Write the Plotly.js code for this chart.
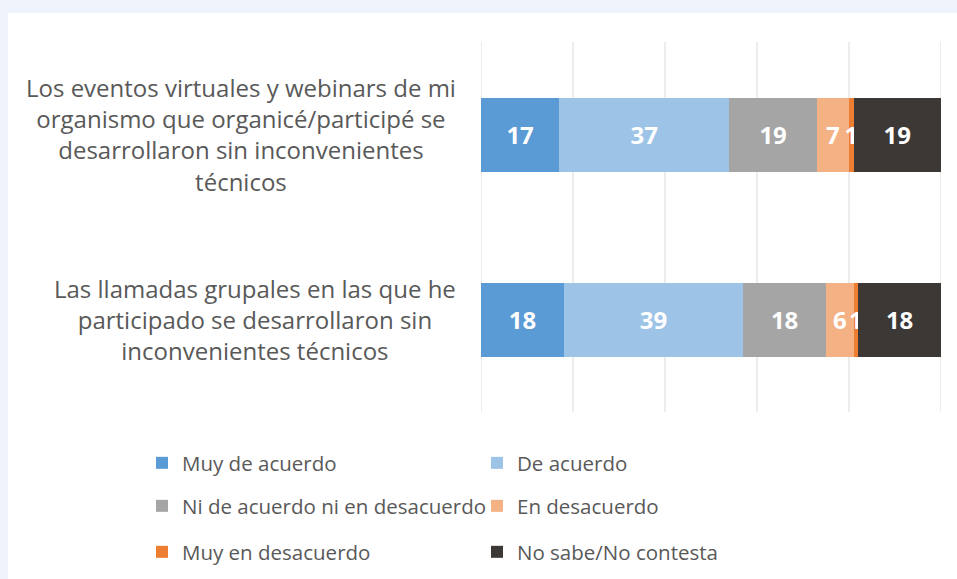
<!DOCTYPE html>
<html>
<head>
<meta charset="utf-8">
<script src="https://cdn.plot.ly/plotly-3.0.1.min.js"></script>
<style>
  html, body { margin: 0; padding: 0; background: #EFF3FB; width: 957px; height: 579px; overflow: hidden; }
  #chart { position: absolute; left: 8px; top: 13px; width: 949px; height: 566px; background: #ffffff; }
</style>
</head>
<body>
<div id="chart"></div>
<script>
// ---- data ----
const categories = [
  "Los eventos virtuales y webinars de mi<br>organismo que organicé/participé se<br>desarrollaron sin inconvenientes<br>técnicos",
  "Las llamadas grupales en las que he<br>participado se desarrollaron sin<br>inconvenientes técnicos"
];
const seriesNames = [
  "Muy de acuerdo",
  "De acuerdo",
  "Ni de acuerdo ni en desacuerdo",
  "En desacuerdo",
  "Muy en desacuerdo",
  "No sabe/No contesta"
];
const muyDeAcuerdo     = [17, 18];
const deAcuerdo        = [37, 39];
const niNi             = [19, 18];
const enDesacuerdo     = [7, 6];
const muyEnDesacuerdo  = [1, 1];
const noSabe           = [19, 18];
const seriesValues = [muyDeAcuerdo, deAcuerdo, niNi, enDesacuerdo, muyEnDesacuerdo, noSabe];
const xTicks = [0, 20, 40, 60, 80, 100];

// ---- styles ----
const colors = ["#5B9BD5", "#9DC3E6", "#A5A5A5", "#F4B183", "#ED7D31", "#3B3836"];
const legendIds = ["legend", "legend", "legend2", "legend2", "legend3", "legend3"];
const FONT = "Open Sans, Segoe UI, Noto Sans, sans-serif";
const TEXT = "#595959";

const traces = seriesNames.map((name, i) => ({
  type: "bar",
  orientation: "h",
  name: name,
  y: categories,
  x: seriesValues[i],
  text: seriesValues[i].map(String),
  textposition: "inside",
  insidetextanchor: "middle",
  textangle: 0,
  textfont: { family: FONT, size: 24, color: "#ffffff", weight: 700 },
  marker: { color: colors[i], line: { width: 0 } },
  legend: legendIds[i],
  hoverinfo: "skip"
}));

const plotLeft = 473, plotW = 460, plotTop = 29, plotH = 370;
const px2x = p => (p - plotLeft) / plotW;
const px2y = p => (plotTop + plotH - p) / plotH;

const legendBase = {
  orientation: "h",
  x: px2x(134),
  xanchor: "left",
  yanchor: "middle",
  font: { family: FONT, size: 20.5, color: TEXT },
  entrywidth: 290,
  entrywidthmode: "pixels",
  bgcolor: "rgba(0,0,0,0)",
  borderwidth: 0,
  traceorder: "normal"
};

// vertical grid lines drawn through the x axis scale
const gridShapes = xTicks.map(v => ({
  type: "line",
  xref: "x",
  yref: "paper",
  x0: v, x1: v,
  y0: 0, y1: 1,
  layer: "below",
  line: { color: "#D9D9D9", width: 1 }
}));

const layout = {
  width: 949,
  height: 566,
  margin: { l: plotLeft, r: 949 - plotLeft - plotW, t: plotTop, b: 566 - plotTop - plotH, pad: 0, autoexpand: false },
  paper_bgcolor: "#ffffff",
  plot_bgcolor: "#ffffff",
  barmode: "stack",
  bargap: 0.6,
  font: { family: FONT, color: TEXT },
  uniformtext: { mode: "show", minsize: 24 },
  xaxis: {
    range: [0, 100],
    tickvals: xTicks,
    showticklabels: false,
    showgrid: false,
    zeroline: false,
    showline: false,
    ticks: "",
    fixedrange: true
  },
  yaxis: {
    type: "category",
    categoryorder: "array",
    categoryarray: categories,
    range: [1.5, -0.5],
    showticklabels: false,
    showgrid: false,
    zeroline: false,
    showline: false,
    ticks: "",
    fixedrange: true
  },
  shapes: gridShapes,
  legend:  Object.assign({}, legendBase, { y: px2y(450) }),
  legend2: Object.assign({}, legendBase, { y: px2y(493) }),
  legend3: Object.assign({}, legendBase, { y: px2y(539) }),
  annotations: categories.map(c => ({
    xref: "paper",
    yref: "y",
    x: px2x(450),
    y: c,
    xanchor: "right",
    yanchor: "middle",
    align: "center",
    showarrow: false,
    text: c,
    font: { family: FONT, size: 24, color: TEXT }
  })),
  showlegend: true
};

Plotly.newPlot("chart", traces, layout, { staticPlot: true, displayModeBar: false });
</script>
</body>
</html>
